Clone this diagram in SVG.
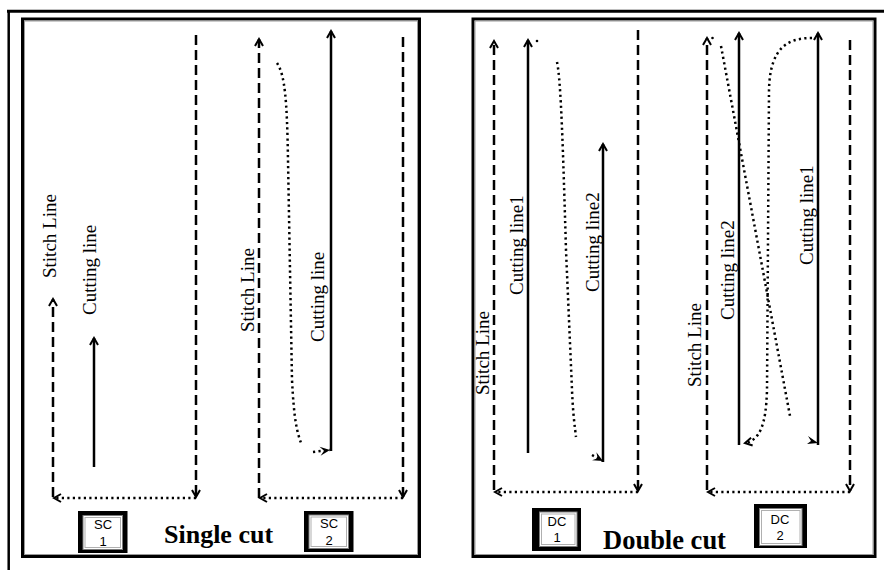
<svg xmlns="http://www.w3.org/2000/svg" width="884" height="570" viewBox="0 0 884 570">
<style>
.frame{fill:none;stroke:#000;stroke-width:3}
.inner{fill:none;stroke:#9a9a9a;stroke-width:1}
.dash{fill:none;stroke:#000;stroke-width:2.5;stroke-dasharray:10 5}
.dot{fill:none;stroke:#000;stroke-width:2.5;stroke-dasharray:2.2 3.3}
.cut{fill:none;stroke:#000;stroke-width:2.5}
.lbl{font-family:"Liberation Serif","Times New Roman",serif;font-size:19px;fill:#000}
.title{font-family:"Liberation Serif","Times New Roman",serif;font-size:26px;font-weight:bold;fill:#000}
.btn{font-family:"Liberation Sans",Arial,sans-serif;font-size:13px;fill:#000;text-anchor:middle}
.bo{fill:#000}
.bi{fill:#fff;stroke:#7a7a7a;stroke-width:1}
.bi2{fill:none;stroke:#b0b0b0;stroke-width:1}
</style>
<defs>
<marker id="chev" markerUnits="userSpaceOnUse" markerWidth="12" markerHeight="12" viewBox="-10 -6 12 12" refX="0" refY="0" orient="auto">
<path d="M-7,-4 L0,0 L-7,4" fill="none" stroke="#000" stroke-width="2"/>
</marker>
<marker id="barb" markerUnits="userSpaceOnUse" markerWidth="14" markerHeight="12" viewBox="-12 -6 14 12" refX="0" refY="0" orient="auto">
<path d="M0,0 L-10,-4.5 L-6,0 L-10,4.5 Z" fill="#000"/>
</marker>
</defs>
<rect width="884" height="570" fill="#fff"/>
<g id="outer-frame">
<line x1="7" y1="11.3" x2="884" y2="11.3" stroke="#000" stroke-width="3"/>
<line x1="8.7" y1="10" x2="8.7" y2="570" stroke="#000" stroke-width="2.5"/>
</g>
<g id="panel-single">
<rect class="frame" x="22.5" y="19" width="397" height="537.5"/>
<rect class="inner" x="24.5" y="21" width="393" height="533.5"/>
</g>
<g id="panel-double">
<rect class="frame" x="473" y="19" width="402" height="537.5"/>
<rect class="inner" x="475" y="21" width="398" height="533.5"/>
</g>
<g id="connectors">
<!-- SC1 -->
<path class="dash" d="M53,497 L53,299" marker-end="url(#chev)"/>
<path class="dot" d="M196,498 L54,498" marker-end="url(#chev)"/>
<path class="dash" d="M196,35 L196,497" marker-end="url(#chev)"/>
<path class="cut" d="M94,467 L94,338" marker-end="url(#chev)"/>
<!-- SC2 -->
<path class="dash" d="M259,498 L259,39" marker-end="url(#chev)"/>
<path class="dash" d="M403,37 L403,497" marker-end="url(#chev)"/>
<path class="dot" d="M403,498 L260,498" marker-end="url(#chev)"/>
<path class="cut" d="M331,451 L331,31" marker-end="url(#chev)"/>
<path class="dot" d="M277,63 C285,75 287,100 288,160 L292,380 C294,420 297,432 301,443"/>
<path class="dot" d="M313,452 L330,450" marker-end="url(#barb)"/>
<!-- DC1 -->
<path class="dash" d="M494,490 L494,41" marker-end="url(#chev)"/>
<path class="dash" d="M638,30 L638,491" marker-end="url(#chev)"/>
<path class="dot" d="M638,492 L495,492" marker-end="url(#chev)"/>
<path class="cut" d="M528,453 L528,40" marker-end="url(#chev)"/>
<circle cx="537" cy="41" r="1.3" fill="#000"/>
<path class="dot" d="M557,62 C561,80 563,150 566,250 L572,390 C573,415 575,428 576,437"/>
<path class="cut" d="M603,462 L603,144" marker-end="url(#chev)"/>
<path class="dot" d="M592,455 L603,461" marker-end="url(#barb)"/>
<!-- DC2 -->
<path class="dash" d="M707,490 L707,38" marker-end="url(#chev)"/>
<circle cx="712.5" cy="38" r="1.3" fill="#000"/>
<path class="dash" d="M850,40 L850,491" marker-end="url(#chev)"/>
<path class="dot" d="M850,492 L708,492" marker-end="url(#chev)"/>
<path class="cut" d="M739,445 L739,33" marker-end="url(#chev)"/>
<path class="cut" d="M818,445 L818,33" marker-end="url(#chev)"/>
<path class="dot" d="M721,46 L790,416"/>
<path class="dot" d="M812,38 C790,38 770,45 769,90 L767,390 C766,425 760,440 745,443" marker-end="url(#chev)"/>
<path d="M818,443 L808,436 L811,441 L807,444 Z" fill="#000"/>
</g>
<g id="labels">
<text class="lbl" transform="translate(56,278) rotate(-90)">Stitch Line</text>
<text class="lbl" transform="translate(96,315) rotate(-90)">Cutting line</text>
<text class="lbl" transform="translate(254,332) rotate(-90)">Stitch Line</text>
<text class="lbl" transform="translate(324,342) rotate(-90)">Cutting line</text>
<text class="lbl" transform="translate(489,395) rotate(-90)">Stitch Line</text>
<text class="lbl" transform="translate(523,295) rotate(-90)">Cutting line1</text>
<text class="lbl" transform="translate(599,292) rotate(-90)">Cutting line2</text>
<text class="lbl" transform="translate(701,387) rotate(-90)">Stitch Line</text>
<text class="lbl" transform="translate(734,320) rotate(-90)">Cutting line2</text>
<text class="lbl" transform="translate(813,265) rotate(-90)">Cutting line1</text>
</g>
<g id="title-single"><text class="title" x="164" y="543">Single cut</text></g>
<g id="title-double"><text class="title" x="603" y="548.5" style="font-size:26.5px">Double cut</text></g>
<g id="btn-sc1">
<rect class="bo" x="78" y="511" width="49.5" height="42"/>
<rect class="bi" x="83" y="515.5" width="39.5" height="34"/>
<rect class="bi2" x="85" y="517.5" width="35.5" height="30"/>
<text class="btn" x="103" y="529">SC</text>
<text class="btn" x="103" y="546">1</text>
</g>
<g id="btn-sc2">
<rect class="bo" x="304" y="511" width="49.5" height="41"/>
<rect class="bi" x="309" y="515" width="39.5" height="33.5"/>
<rect class="bi2" x="311" y="517" width="35.5" height="29.5"/>
<text class="btn" x="329" y="528">SC</text>
<text class="btn" x="329" y="545">2</text>
</g>
<g id="btn-dc1">
<rect class="bo" x="532" y="508" width="49" height="43"/>
<rect class="bi" x="539.5" y="512" width="37.5" height="34.5"/>
<rect class="bi2" x="541.5" y="514" width="33.5" height="30.5"/>
<text class="btn" x="557" y="526">DC</text>
<text class="btn" x="557" y="542">1</text>
</g>
<g id="btn-dc2">
<rect class="bo" x="754" y="504" width="53" height="44"/>
<rect class="bi" x="759.5" y="508.5" width="42.5" height="37"/>
<rect class="bi2" x="761.5" y="510.5" width="38.5" height="33"/>
<text class="btn" x="780" y="524">DC</text>
<text class="btn" x="780" y="540">2</text>
</g>
</svg>
